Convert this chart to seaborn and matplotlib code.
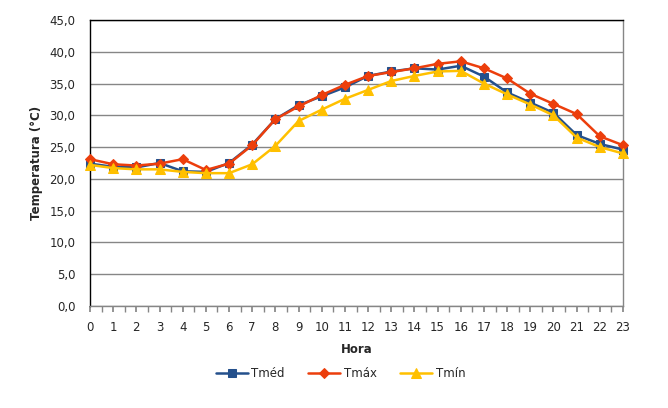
import matplotlib
matplotlib.use("Agg")
import matplotlib.pyplot as plt
import seaborn as sns
import pandas as pd
from matplotlib.ticker import MultipleLocator, FuncFormatter

hours = list(range(24))
tmed = [22.4, 21.9, 21.8, 22.5, 21.2, 21.1, 22.5, 25.4, 29.4, 31.6, 33.0, 34.4,
        36.2, 36.9, 37.4, 37.2, 37.8, 36.1, 33.6, 32.0, 30.4, 26.9, 25.5, 24.6]
tmax = [23.1, 22.3, 22.1, 22.4, 23.1, 21.4, 22.4, 25.3, 29.4, 31.4, 33.2, 34.8,
        36.2, 36.8, 37.4, 38.1, 38.5, 37.4, 35.8, 33.4, 31.8, 30.2, 26.7, 25.3]
tmin = [22.2, 21.7, 21.5, 21.5, 21.1, 20.9, 20.9, 22.3, 25.2, 29.1, 30.9, 32.6,
        34.0, 35.4, 36.2, 36.9, 37.0, 35.0, 33.3, 31.7, 30.0, 26.5, 25.0, 24.0]
series_names = ["Tméd", "Tmáx", "Tmín"]
colors = ["#24508C", "#EC3E0C", "#FFC000"]
markers = ["s", "D", "^"]
msizes = [5.5, 5.5, 6.5]

df = pd.DataFrame({"Hora": hours * 3,
                   "T": tmed + tmax + tmin,
                   "Serie": [series_names[0]] * 24 + [series_names[1]] * 24 + [series_names[2]] * 24})

sns.set_theme(style="white")
plt.rcParams['font.family'] = ['DejaVu Sans']

fig = plt.figure(figsize=(6.68, 4.08), dpi=100)
ax = fig.add_axes([90/668, 1 - 306/408, (623-90)/668, (306-20)/408])

for name, c, m, ms in zip(series_names, colors, markers, msizes):
    sub = df[df["Serie"] == name]
    sns.lineplot(data=sub, x="Hora", y="T", ax=ax, color=c, marker=m,
                 markersize=ms, markeredgecolor=c, linewidth=1.8, label=name,
                 clip_on=False, zorder=3)

ax.set_xlim(0, 23)
ax.set_ylim(0, 45)
ax.yaxis.set_major_locator(MultipleLocator(5))
ax.yaxis.set_major_formatter(FuncFormatter(lambda v, p: f"{v:.1f}".replace(".", ",")))
ax.set_xticks(hours)
ax.set_xticklabels([str(h) for h in hours])
ax.xaxis.set_minor_locator(MultipleLocator(0.5))
ax.grid(axis="y", color="#868686", linewidth=1)
ax.set_axisbelow(True)

for s in ["left", "top"]:
    ax.spines[s].set_color("black")
    ax.spines[s].set_linewidth(1)
for s in ["right", "bottom"]:
    ax.spines[s].set_color("#868686")
    ax.spines[s].set_linewidth(1)

ax.tick_params(axis="x", which="both", bottom=True, length=4, color="#868686",
               labelsize=8.5, pad=7)
ax.tick_params(axis="y", left=False, length=0, labelsize=8.5, pad=10.5)

ax.set_xlabel("Hora", fontsize=8.5, fontweight="bold", labelpad=6)
ax.set_ylabel("Temperatura (°C)", fontsize=8.5, fontweight="bold")
ax.yaxis.set_label_coords(-0.088, 0.5)

leg = ax.legend(loc="upper center", bbox_to_anchor=(0.47, -0.175), ncol=3,
                frameon=False, fontsize=8.5, handlelength=2.7, columnspacing=2.0,
                handletextpad=0.3)

fig.savefig("out.png", dpi=100, facecolor="white")
